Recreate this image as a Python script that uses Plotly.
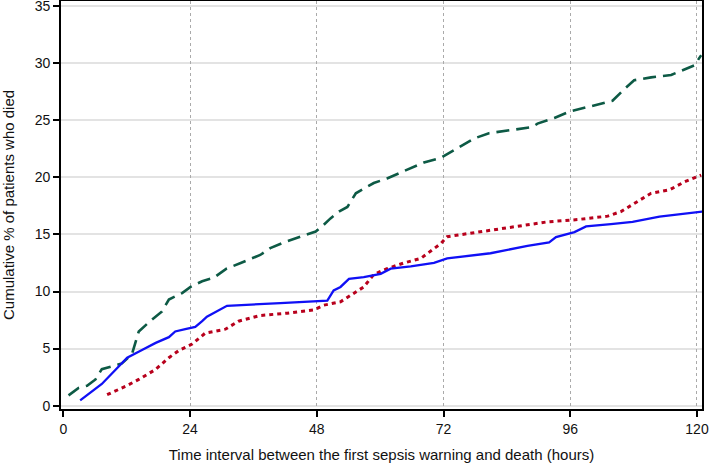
import plotly.graph_objects as go

# Green (long dash)
green_x = [1.0, 2.9, 4.5, 6.1, 7.3, 8.9, 11.1, 13.0, 14.3, 16.2, 18.7, 20.0, 22.5, 24.1, 26.3, 28.5,
           30.9, 33.6, 37.3, 39.2, 41.8, 44.9, 47.8, 49.0, 50.6, 52.2, 53.8, 55.4, 56.9, 58.8, 61.3,
           63.9, 65.8, 68.3, 71.5, 74.0, 77.8, 80.6, 84.7, 88.8, 89.8, 93.0, 95.8, 99.9, 104.0, 106.2,
           108.1, 111.3, 115.1, 119.5, 120.8]
green_y = [0.9, 1.55, 1.75, 2.3, 3.2, 3.4, 3.7, 4.5, 6.5, 7.3, 8.25, 9.3, 9.86, 10.4, 10.9, 11.2,
           12.0, 12.5, 13.2, 13.8, 14.3, 14.8, 15.25, 15.7, 16.4, 17.0, 17.4, 18.6, 19.0, 19.5, 19.9,
           20.4, 20.8, 21.3, 21.7, 22.4, 23.4, 23.86, 24.1, 24.4, 24.7, 25.2, 25.75, 26.25, 26.7, 27.7,
           28.5, 28.75, 28.96, 29.8, 30.7]

# Blue (solid)
blue_x = [3.2, 7.3, 9.9, 12.1, 15.0, 17.5, 20.0, 21.2, 23.1, 25.0, 26.3, 27.2, 31.0, 36.4, 41.1, 50.0,
          51.2, 52.5, 54.1, 56.9, 60.1, 62.0, 65.8, 70.2, 72.7, 80.9, 87.9, 92.0, 93.3, 96.8, 99.0,
          103.7, 107.8, 112.9, 117.6, 121.0]
blue_y = [0.46, 1.9, 3.15, 4.2, 4.9, 5.5, 6.0, 6.5, 6.7, 6.9, 7.4, 7.8, 8.75, 8.9, 8.98, 9.2,
          10.1, 10.4, 11.1, 11.26, 11.55, 12.0, 12.2, 12.5, 12.9, 13.35, 14.0, 14.3, 14.76, 15.2, 15.7,
          15.9, 16.1, 16.56, 16.8, 17.0]

# Red (short dash)
red_x = [8.3, 11.8, 14.3, 17.4, 20.0, 21.9, 24.4, 26.9, 30.7, 33.2, 37.3, 42.4, 47.5, 49.3, 52.5,
         55.0, 56.9, 58.8, 61.3, 64.5, 67.7, 69.9, 71.5, 72.7, 79.1, 85.4, 91.7, 97.4, 103.1, 105.6,
         108.8, 111.3, 114.8, 117.6, 120.8]
red_y = [0.96, 1.7, 2.3, 3.15, 4.2, 4.84, 5.4, 6.36, 6.7, 7.4, 7.9, 8.1, 8.4, 8.8, 9.1,
         9.86, 10.4, 11.5, 12.0, 12.5, 12.9, 13.65, 14.2, 14.8, 15.25, 15.7, 16.1, 16.3, 16.6, 17.0,
         17.9, 18.6, 18.9, 19.6, 20.2]

x_ticks = [0, 24, 48, 72, 96, 120]
x_grid = [24, 48, 72, 96, 120]
y_ticks = [0, 5, 10, 15, 20, 25, 30, 35]

x_title = "Time interval between the first sepsis warning and death (hours)"
y_title = "Cumulative % of patients who died"

FONT = "Liberation Sans, Arial, sans-serif"
XR = [-0.43, 120.95]
YR = [-0.29, 35.44]

fig = go.Figure()
fig.add_trace(go.Scatter(x=[None], y=[None], xaxis="x2", showlegend=False, hoverinfo="skip"))
fig.add_trace(go.Scatter(x=green_x, y=green_y, mode="lines",
                         line=dict(color="#0d5a45", width=2.6, dash="13px,7px"), showlegend=False))
fig.add_trace(go.Scatter(x=red_x, y=red_y, mode="lines",
                         line=dict(color="#b8001c", width=3, dash="4px,4px"), showlegend=False))
fig.add_trace(go.Scatter(x=blue_x, y=blue_y, mode="lines",
                         line=dict(color="#1010f5", width=2.3), showlegend=False))

fig.update_layout(
    width=709, height=465,
    margin=dict(l=61, r=7, t=1, b=56),
    paper_bgcolor="white", plot_bgcolor="white",
    font=dict(family=FONT, size=14, color="#111"),
    showlegend=False,
    xaxis=dict(range=XR, tickvals=x_ticks, ticktext=[str(v) for v in x_ticks],
               showgrid=False, zeroline=False, showline=True, linecolor="black", linewidth=1.6,
               mirror=True, ticks="outside", ticklen=6, tickwidth=1.5, tickcolor="black",
               automargin=False, ticklabeloverflow="allow",
               title=dict(text=x_title, standoff=14, font=dict(size=15)),
               tickfont=dict(size=14)),
    xaxis2=dict(range=XR, overlaying="x", tickvals=x_grid, showticklabels=False,
                showgrid=True, gridcolor="#aaaaaa", griddash="dot", gridwidth=1.3,
                zeroline=False, showline=False, ticks="", automargin=False),
    yaxis=dict(range=YR, tickvals=y_ticks, showgrid=True, gridcolor="#e3e3e3", gridwidth=1.5,
               zeroline=False, showline=True, linecolor="black", linewidth=1.6, mirror=True,
               ticks="outside", ticklen=6, tickwidth=1.5, tickcolor="black",
               automargin=False, ticklabeloverflow="allow",
               tickfont=dict(size=14)),
    annotations=[dict(text=y_title, xref="paper", yref="paper", x=0, y=0.5,
                      xanchor="center", yanchor="middle", xshift=-53, textangle=-90,
                      showarrow=False, font=dict(size=15))],
)

fig.write_html("out.html", config={"displayModeBar": False},
               post_script="document.body.style.margin='0';document.body.style.overflow='hidden';")
